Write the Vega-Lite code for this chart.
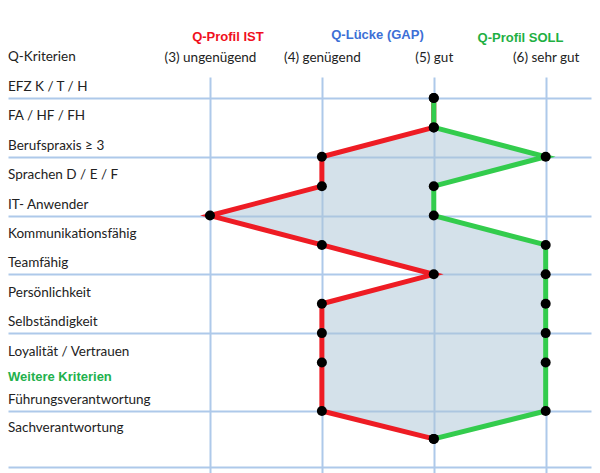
{
  "$schema": "https://vega.github.io/schema/vega-lite/v6.json",
  "width": 583,
  "height": 396,
  "autosize": {"type": "none"},
  "padding": {"left": 8, "top": 77, "right": 9, "bottom": 0},
  "background": "white",
  "config": {"view": {"stroke": null}, "font": "Lato"},
  "data": {
    "values": [
      {"k": "EFZ  K / T / H", "row": 1, "ist": 5, "soll": 5},
      {"k": "FA / HF / FH", "row": 2, "ist": 5, "soll": 5},
      {"k": "Berufspraxis ≥ 3", "row": 3, "ist": 4, "soll": 6},
      {"k": "Sprachen D / E / F", "row": 4, "ist": 4, "soll": 5},
      {"k": "IT- Anwender", "row": 5, "ist": 3, "soll": 5},
      {"k": "Kommunikationsfähig", "row": 6, "ist": 4, "soll": 6},
      {"k": "Teamfähig", "row": 7, "ist": 5, "soll": 6},
      {"k": "Persönlichkeit", "row": 8, "ist": 4, "soll": 6},
      {"k": "Selbständigkeit", "row": 9, "ist": 4, "soll": 6},
      {"k": "Loyalität / Vertrauen", "row": 10, "ist": 4, "soll": 6},
      {"k": "Führungsverantwortung", "row": 11.65, "ist": 4, "soll": 6},
      {"k": "Sachverantwortung", "row": 12.6, "ist": 5, "soll": 5}
    ]
  },
  "layer": [
    {
      "mark": {"type": "area", "orient": "horizontal", "color": "#a9c3d6", "opacity": 0.5},
      "encoding": {
        "y": {
          "field": "row",
          "type": "quantitative",
          "scale": {"domain": [0.285, 13.76], "reverse": true, "nice": false, "zero": false},
          "axis": {
            "values": [1, 2, 3, 4, 5, 6, 7, 8, 9, 10, 11.65, 12.6, 13.54],
            "labels": false,
            "ticks": false,
            "domain": false,
            "title": null,
            "grid": true,
            "gridColor": "#aec9ea",
            "gridWidth": 2
          }
        },
        "x": {
          "field": "ist",
          "type": "quantitative",
          "scale": {"domain": [1.195, 6.405], "nice": false, "zero": false},
          "axis": {
            "orient": "top",
            "values": [3, 4, 5, 6],
            "labelExpr": "datum.value == 3 ? '(3) ungenügend' : datum.value == 4 ? '(4) genügend' : datum.value == 5 ? '(5) gut' : '(6) sehr gut'",
            "labelFont": "Lato",
            "labelFontSize": 13.5,
            "labelColor": "#222222",
            "labelPadding": 13,
            "ticks": false,
            "domain": false,
            "title": null,
            "grid": true,
            "gridColor": "#aec9ea",
            "gridWidth": 2
          }
        },
        "x2": {"field": "soll"}
      }
    },
    {
      "mark": {"type": "line", "color": "#ee1c24", "strokeWidth": 5},
      "encoding": {
        "y": {"field": "row", "type": "quantitative"},
        "x": {"field": "ist", "type": "quantitative"},
        "order": {"field": "row"}
      }
    },
    {
      "mark": {"type": "line", "color": "#33cc4d", "strokeWidth": 5},
      "encoding": {
        "y": {"field": "row", "type": "quantitative"},
        "x": {"field": "soll", "type": "quantitative"},
        "order": {"field": "row"}
      }
    },
    {
      "mark": {"type": "circle", "color": "#000000", "size": 100, "opacity": 1},
      "encoding": {
        "y": {"field": "row", "type": "quantitative"},
        "x": {"field": "ist", "type": "quantitative"}
      }
    },
    {
      "mark": {"type": "circle", "color": "#000000", "size": 100, "opacity": 1},
      "encoding": {
        "y": {"field": "row", "type": "quantitative"},
        "x": {"field": "soll", "type": "quantitative"}
      }
    },
    {
      "mark": {"type": "text", "align": "left", "baseline": "middle", "dx": 0, "dy": -11, "fontSize": 13.5, "color": "#222222", "font": "Lato"},
      "encoding": {
        "y": {"field": "row", "type": "quantitative"},
        "x": {"datum": 1.195, "type": "quantitative"},
        "text": {"field": "k"}
      }
    },
    {
      "data": {"values": [{}]},
      "mark": {"type": "text", "text": "Weitere Kriterien", "align": "left", "baseline": "middle", "fontSize": 13, "fontWeight": "bold", "color": "#22b14c", "font": "Liberation Sans"},
      "encoding": {
        "x": {"datum": 1.195, "type": "quantitative"},
        "y": {"datum": 10.49, "type": "quantitative"}
      }
    },
    {
      "data": {"values": [{}]},
      "mark": {"type": "text", "text": "Q-Kriterien", "align": "left", "baseline": "middle", "fontSize": 13.5, "color": "#222222", "font": "Lato"},
      "encoding": {
        "x": {"datum": 1.195, "type": "quantitative"},
        "y": {"datum": -0.395, "type": "quantitative"}
      }
    },
    {
      "data": {"values": [{}]},
      "mark": {"type": "text", "text": "Q-Profil IST", "align": "center", "baseline": "middle", "fontSize": 13, "fontWeight": "bold", "color": "#f01020", "font": "Liberation Sans"},
      "encoding": {
        "x": {"datum": 3.16, "type": "quantitative"},
        "y": {"datum": -1.09, "type": "quantitative"}
      }
    },
    {
      "data": {"values": [{}]},
      "mark": {"type": "text", "text": "Q-Lücke (GAP)", "align": "center", "baseline": "middle", "fontSize": 13, "fontWeight": "bold", "color": "#3d6fd6", "font": "Liberation Sans"},
      "encoding": {
        "x": {"datum": 4.497, "type": "quantitative"},
        "y": {"datum": -1.16, "type": "quantitative"}
      }
    },
    {
      "data": {"values": [{}]},
      "mark": {"type": "text", "text": "Q-Profil SOLL", "align": "center", "baseline": "middle", "fontSize": 13, "fontWeight": "bold", "color": "#1fb043", "font": "Liberation Sans"},
      "encoding": {
        "x": {"datum": 5.775, "type": "quantitative"},
        "y": {"datum": -1.04, "type": "quantitative"}
      }
    }
  ]
}
